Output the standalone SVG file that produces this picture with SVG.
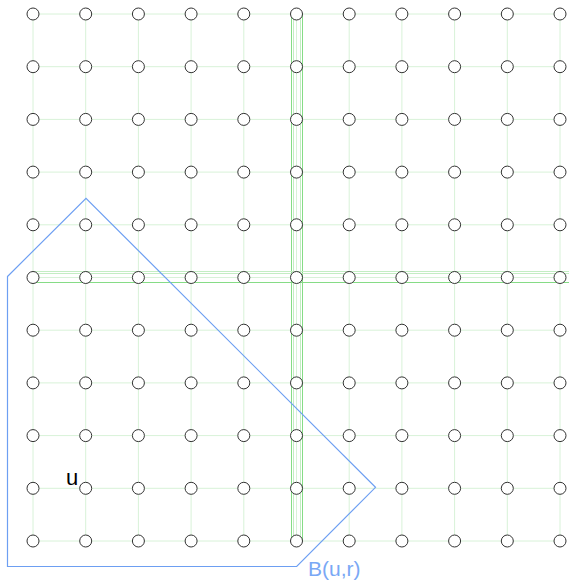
<svg xmlns="http://www.w3.org/2000/svg" width="569" height="580" viewBox="0 0 569 580">
<style>
.g{stroke:#d8f2d8;stroke-width:1;fill:none}
.hl1{stroke:#86dc86;stroke-width:1;fill:none}
.hl2{stroke:#c4edc4;stroke-width:1;fill:none}
.n{fill:#fff;stroke:#333;stroke-width:1}
.ball{fill:none;stroke:#6d9ff2;stroke-width:1.2}
</style>
<rect width="569" height="580" fill="#fff"/>
<g id="connectors">
<path class="g" d="M33 14H560M33 66.7H560M33 119.4H560M33 172.1H560M33 224.8H560M33 277.5H560M33 330.2H560M33 382.9H560M33 435.6H560M33 488.3H560M33 541H560"/>
<path class="g" d="M33 14V541M85.7 14V541M138.4 14V541M191.1 14V541M243.8 14V541M296.5 14V541M349.2 14V541M401.9 14V541M454.6 14V541M507.3 14V541M560 14V541"/>
<path class="hl1" d="M291.5 14V541M302.5 14V541"/>
<path class="hl2" d="M300.5 14V541M293.5 14V541"/>
<path class="hl2" d="M33 271.5H569M33 273.5H569"/>
<path class="hl1" d="M33 282.5H569"/>
</g>
<g id="nodes">
<g id="n0_0"><circle class="n" cx="33" cy="14" r="6"/></g><g id="n0_1"><circle class="n" cx="85.7" cy="14" r="6"/></g><g id="n0_2"><circle class="n" cx="138.4" cy="14" r="6"/></g><g id="n0_3"><circle class="n" cx="191.1" cy="14" r="6"/></g><g id="n0_4"><circle class="n" cx="243.8" cy="14" r="6"/></g><g id="n0_5"><circle class="n" cx="296.5" cy="14" r="6"/></g><g id="n0_6"><circle class="n" cx="349.2" cy="14" r="6"/></g><g id="n0_7"><circle class="n" cx="401.9" cy="14" r="6"/></g><g id="n0_8"><circle class="n" cx="454.6" cy="14" r="6"/></g><g id="n0_9"><circle class="n" cx="507.3" cy="14" r="6"/></g><g id="n0_10"><circle class="n" cx="560" cy="14" r="6"/></g>
<g id="n1_0"><circle class="n" cx="33" cy="66.7" r="6"/></g><g id="n1_1"><circle class="n" cx="85.7" cy="66.7" r="6"/></g><g id="n1_2"><circle class="n" cx="138.4" cy="66.7" r="6"/></g><g id="n1_3"><circle class="n" cx="191.1" cy="66.7" r="6"/></g><g id="n1_4"><circle class="n" cx="243.8" cy="66.7" r="6"/></g><g id="n1_5"><circle class="n" cx="296.5" cy="66.7" r="6"/></g><g id="n1_6"><circle class="n" cx="349.2" cy="66.7" r="6"/></g><g id="n1_7"><circle class="n" cx="401.9" cy="66.7" r="6"/></g><g id="n1_8"><circle class="n" cx="454.6" cy="66.7" r="6"/></g><g id="n1_9"><circle class="n" cx="507.3" cy="66.7" r="6"/></g><g id="n1_10"><circle class="n" cx="560" cy="66.7" r="6"/></g>
<g id="n2_0"><circle class="n" cx="33" cy="119.4" r="6"/></g><g id="n2_1"><circle class="n" cx="85.7" cy="119.4" r="6"/></g><g id="n2_2"><circle class="n" cx="138.4" cy="119.4" r="6"/></g><g id="n2_3"><circle class="n" cx="191.1" cy="119.4" r="6"/></g><g id="n2_4"><circle class="n" cx="243.8" cy="119.4" r="6"/></g><g id="n2_5"><circle class="n" cx="296.5" cy="119.4" r="6"/></g><g id="n2_6"><circle class="n" cx="349.2" cy="119.4" r="6"/></g><g id="n2_7"><circle class="n" cx="401.9" cy="119.4" r="6"/></g><g id="n2_8"><circle class="n" cx="454.6" cy="119.4" r="6"/></g><g id="n2_9"><circle class="n" cx="507.3" cy="119.4" r="6"/></g><g id="n2_10"><circle class="n" cx="560" cy="119.4" r="6"/></g>
<g id="n3_0"><circle class="n" cx="33" cy="172.1" r="6"/></g><g id="n3_1"><circle class="n" cx="85.7" cy="172.1" r="6"/></g><g id="n3_2"><circle class="n" cx="138.4" cy="172.1" r="6"/></g><g id="n3_3"><circle class="n" cx="191.1" cy="172.1" r="6"/></g><g id="n3_4"><circle class="n" cx="243.8" cy="172.1" r="6"/></g><g id="n3_5"><circle class="n" cx="296.5" cy="172.1" r="6"/></g><g id="n3_6"><circle class="n" cx="349.2" cy="172.1" r="6"/></g><g id="n3_7"><circle class="n" cx="401.9" cy="172.1" r="6"/></g><g id="n3_8"><circle class="n" cx="454.6" cy="172.1" r="6"/></g><g id="n3_9"><circle class="n" cx="507.3" cy="172.1" r="6"/></g><g id="n3_10"><circle class="n" cx="560" cy="172.1" r="6"/></g>
<g id="n4_0"><circle class="n" cx="33" cy="224.8" r="6"/></g><g id="n4_1"><circle class="n" cx="85.7" cy="224.8" r="6"/></g><g id="n4_2"><circle class="n" cx="138.4" cy="224.8" r="6"/></g><g id="n4_3"><circle class="n" cx="191.1" cy="224.8" r="6"/></g><g id="n4_4"><circle class="n" cx="243.8" cy="224.8" r="6"/></g><g id="n4_5"><circle class="n" cx="296.5" cy="224.8" r="6"/></g><g id="n4_6"><circle class="n" cx="349.2" cy="224.8" r="6"/></g><g id="n4_7"><circle class="n" cx="401.9" cy="224.8" r="6"/></g><g id="n4_8"><circle class="n" cx="454.6" cy="224.8" r="6"/></g><g id="n4_9"><circle class="n" cx="507.3" cy="224.8" r="6"/></g><g id="n4_10"><circle class="n" cx="560" cy="224.8" r="6"/></g>
<g id="n5_0"><circle class="n" cx="33" cy="277.5" r="6"/></g><g id="n5_1"><circle class="n" cx="85.7" cy="277.5" r="6"/></g><g id="n5_2"><circle class="n" cx="138.4" cy="277.5" r="6"/></g><g id="n5_3"><circle class="n" cx="191.1" cy="277.5" r="6"/></g><g id="n5_4"><circle class="n" cx="243.8" cy="277.5" r="6"/></g><g id="n5_5"><circle class="n" cx="296.5" cy="277.5" r="6"/></g><g id="n5_6"><circle class="n" cx="349.2" cy="277.5" r="6"/></g><g id="n5_7"><circle class="n" cx="401.9" cy="277.5" r="6"/></g><g id="n5_8"><circle class="n" cx="454.6" cy="277.5" r="6"/></g><g id="n5_9"><circle class="n" cx="507.3" cy="277.5" r="6"/></g><g id="n5_10"><circle class="n" cx="560" cy="277.5" r="6"/></g>
<g id="n6_0"><circle class="n" cx="33" cy="330.2" r="6"/></g><g id="n6_1"><circle class="n" cx="85.7" cy="330.2" r="6"/></g><g id="n6_2"><circle class="n" cx="138.4" cy="330.2" r="6"/></g><g id="n6_3"><circle class="n" cx="191.1" cy="330.2" r="6"/></g><g id="n6_4"><circle class="n" cx="243.8" cy="330.2" r="6"/></g><g id="n6_5"><circle class="n" cx="296.5" cy="330.2" r="6"/></g><g id="n6_6"><circle class="n" cx="349.2" cy="330.2" r="6"/></g><g id="n6_7"><circle class="n" cx="401.9" cy="330.2" r="6"/></g><g id="n6_8"><circle class="n" cx="454.6" cy="330.2" r="6"/></g><g id="n6_9"><circle class="n" cx="507.3" cy="330.2" r="6"/></g><g id="n6_10"><circle class="n" cx="560" cy="330.2" r="6"/></g>
<g id="n7_0"><circle class="n" cx="33" cy="382.9" r="6"/></g><g id="n7_1"><circle class="n" cx="85.7" cy="382.9" r="6"/></g><g id="n7_2"><circle class="n" cx="138.4" cy="382.9" r="6"/></g><g id="n7_3"><circle class="n" cx="191.1" cy="382.9" r="6"/></g><g id="n7_4"><circle class="n" cx="243.8" cy="382.9" r="6"/></g><g id="n7_5"><circle class="n" cx="296.5" cy="382.9" r="6"/></g><g id="n7_6"><circle class="n" cx="349.2" cy="382.9" r="6"/></g><g id="n7_7"><circle class="n" cx="401.9" cy="382.9" r="6"/></g><g id="n7_8"><circle class="n" cx="454.6" cy="382.9" r="6"/></g><g id="n7_9"><circle class="n" cx="507.3" cy="382.9" r="6"/></g><g id="n7_10"><circle class="n" cx="560" cy="382.9" r="6"/></g>
<g id="n8_0"><circle class="n" cx="33" cy="435.6" r="6"/></g><g id="n8_1"><circle class="n" cx="85.7" cy="435.6" r="6"/></g><g id="n8_2"><circle class="n" cx="138.4" cy="435.6" r="6"/></g><g id="n8_3"><circle class="n" cx="191.1" cy="435.6" r="6"/></g><g id="n8_4"><circle class="n" cx="243.8" cy="435.6" r="6"/></g><g id="n8_5"><circle class="n" cx="296.5" cy="435.6" r="6"/></g><g id="n8_6"><circle class="n" cx="349.2" cy="435.6" r="6"/></g><g id="n8_7"><circle class="n" cx="401.9" cy="435.6" r="6"/></g><g id="n8_8"><circle class="n" cx="454.6" cy="435.6" r="6"/></g><g id="n8_9"><circle class="n" cx="507.3" cy="435.6" r="6"/></g><g id="n8_10"><circle class="n" cx="560" cy="435.6" r="6"/></g>
<g id="n9_0"><circle class="n" cx="33" cy="488.3" r="6"/></g><g id="n9_1"><circle class="n" cx="85.7" cy="488.3" r="6"/></g><g id="n9_2"><circle class="n" cx="138.4" cy="488.3" r="6"/></g><g id="n9_3"><circle class="n" cx="191.1" cy="488.3" r="6"/></g><g id="n9_4"><circle class="n" cx="243.8" cy="488.3" r="6"/></g><g id="n9_5"><circle class="n" cx="296.5" cy="488.3" r="6"/></g><g id="n9_6"><circle class="n" cx="349.2" cy="488.3" r="6"/></g><g id="n9_7"><circle class="n" cx="401.9" cy="488.3" r="6"/></g><g id="n9_8"><circle class="n" cx="454.6" cy="488.3" r="6"/></g><g id="n9_9"><circle class="n" cx="507.3" cy="488.3" r="6"/></g><g id="n9_10"><circle class="n" cx="560" cy="488.3" r="6"/></g>
<g id="n10_0"><circle class="n" cx="33" cy="541" r="6"/></g><g id="n10_1"><circle class="n" cx="85.7" cy="541" r="6"/></g><g id="n10_2"><circle class="n" cx="138.4" cy="541" r="6"/></g><g id="n10_3"><circle class="n" cx="191.1" cy="541" r="6"/></g><g id="n10_4"><circle class="n" cx="243.8" cy="541" r="6"/></g><g id="n10_5"><circle class="n" cx="296.5" cy="541" r="6"/></g><g id="n10_6"><circle class="n" cx="349.2" cy="541" r="6"/></g><g id="n10_7"><circle class="n" cx="401.9" cy="541" r="6"/></g><g id="n10_8"><circle class="n" cx="454.6" cy="541" r="6"/></g><g id="n10_9"><circle class="n" cx="507.3" cy="541" r="6"/></g><g id="n10_10"><circle class="n" cx="560" cy="541" r="6"/></g>
</g>
<g id="ball">
<polygon class="ball" points="7.5,276.5 86,198.3 375.5,487.3 296.7,566.5 7.5,566.5"/>
<text x="308" y="575.5" font-family="Liberation Sans, Arial, sans-serif" font-size="21" fill="#7aa8f5">B(u,r)</text>
</g>
<g id="label-u"><text x="66" y="484.5" font-family="Liberation Sans, Arial, sans-serif" font-size="22" fill="#000">u</text></g>
</svg>
